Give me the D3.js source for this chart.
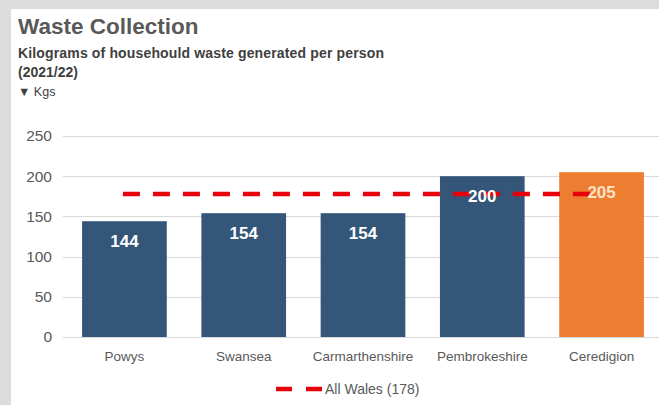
<!DOCTYPE html>
<html>
<head>
<meta charset="utf-8">
<script src="https://cdn.jsdelivr.net/npm/d3@7"></script>
<style>
  html, body { margin: 0; padding: 0; background: #dcdcdc; }
  svg { display: block; }
  text { font-family: "Liberation Sans", Arial, sans-serif; }
</style>
</head>
<body>
<script>
const categories = ["Powys", "Swansea", "Carmarthenshire", "Pembrokeshire", "Ceredigion"];
const values = [144, 154, 154, 200, 205];
const barColors = ["#335679", "#335679", "#335679", "#335679", "#ed7d31"];
const allWales = 178;
const yTicks = [0, 50, 100, 150, 200, 250];
const title = "Waste Collection";
const subtitle1 = "Kilograms of househould waste generated per person";
const subtitle2 = "(2021/22)";
const unitLabel = "▼ Kgs";
const legendLabel = "All Wales (178)";

const W = 659, H = 405;
const svg = d3.select("body").append("svg").attr("width", W).attr("height", H);

svg.append("rect").attr("x", 0).attr("y", 0).attr("width", W).attr("height", H).attr("fill", "#dcdcdc");
svg.append("rect").attr("x", 11).attr("y", 9).attr("width", W - 11).attr("height", H - 9).attr("fill", "#ffffff");

svg.append("text").attr("x", 18).attr("y", 34).attr("font-size", 22.5).attr("font-weight", "bold")
  .attr("fill", "#595959").text(title);
svg.append("text").attr("x", 18).attr("y", 58).attr("font-size", 14).attr("font-weight", "bold")
  .attr("letter-spacing", 0.15).attr("fill", "#404040").text(subtitle1);
svg.append("text").attr("x", 18).attr("y", 77).attr("font-size", 14).attr("font-weight", "bold")
  .attr("fill", "#404040").text(subtitle2);
svg.append("text").attr("x", 18).attr("y", 96).attr("font-size", 12.5)
  .attr("fill", "#404040").text(unitLabel);

const y = d3.scaleLinear().domain([0, 250]).range([337, 136]);
const x = d3.scaleBand().domain(categories).range([63, 663]).paddingInner(0.29).paddingOuter(0.16);

// gridlines
svg.append("g").selectAll("line").data(yTicks).join("line")
  .attr("x1", 63).attr("x2", W).attr("y1", d => Math.round(y(d)) + 0.5).attr("y2", d => Math.round(y(d)) + 0.5)
  .attr("stroke", "#d9d9d9").attr("stroke-width", 1);

// y axis labels
const yAxis = d3.axisLeft(y).tickValues(yTicks).tickSize(0).tickPadding(0);
const gy = svg.append("g").attr("transform", "translate(52,0)").call(yAxis);
gy.select(".domain").remove();
gy.selectAll("text").attr("font-size", 15.5).attr("fill", "#595959")
  .attr("font-family", "Liberation Sans, Arial, sans-serif");

// bars
svg.append("g").selectAll("rect").data(values).join("rect")
  .attr("x", (d, i) => x(categories[i]))
  .attr("y", d => y(d))
  .attr("width", x.bandwidth())
  .attr("height", d => y(0) - y(d))
  .attr("fill", (d, i) => barColors[i]);

// x axis labels
const xAxis = d3.axisBottom(x).tickSize(0).tickPadding(0);
const gx = svg.append("g").attr("transform", "translate(0,351)").call(xAxis);
gx.select(".domain").remove();
gx.selectAll("text").attr("font-size", 13.5).attr("fill", "#595959")
  .attr("font-family", "Liberation Sans, Arial, sans-serif");

// All Wales dashed line
const c0 = x(categories[0]) + x.bandwidth() / 2;
const c1 = x(categories[categories.length - 1]) + x.bandwidth() / 2;
svg.append("line")
  .attr("x1", c0 - 1.5).attr("x2", c1).attr("y1", y(allWales)).attr("y2", y(allWales))
  .attr("stroke", "#e8000a").attr("stroke-width", 4.5).attr("stroke-dasharray", "17 13");

// bar value labels
svg.append("g").selectAll("text").data(values).join("text")
  .attr("x", (d, i) => x(categories[i]) + x.bandwidth() / 2)
  .attr("y", d => y(d) + 26)
  .attr("text-anchor", "middle")
  .attr("font-size", 17).attr("font-weight", "bold")
  .attr("fill", (d, i) => i === values.length - 1 ? "#fbe3c8" : "#ffffff")
  .text(d => d);

// legend
svg.append("line").attr("x1", 276).attr("x2", 322).attr("y1", 389).attr("y2", 389)
  .attr("stroke", "#e8000a").attr("stroke-width", 4.5).attr("stroke-dasharray", "16 14");
svg.append("text").attr("x", 325).attr("y", 394).attr("font-size", 14).attr("fill", "#595959")
  .text(legendLabel);
</script>
</body>
</html>
